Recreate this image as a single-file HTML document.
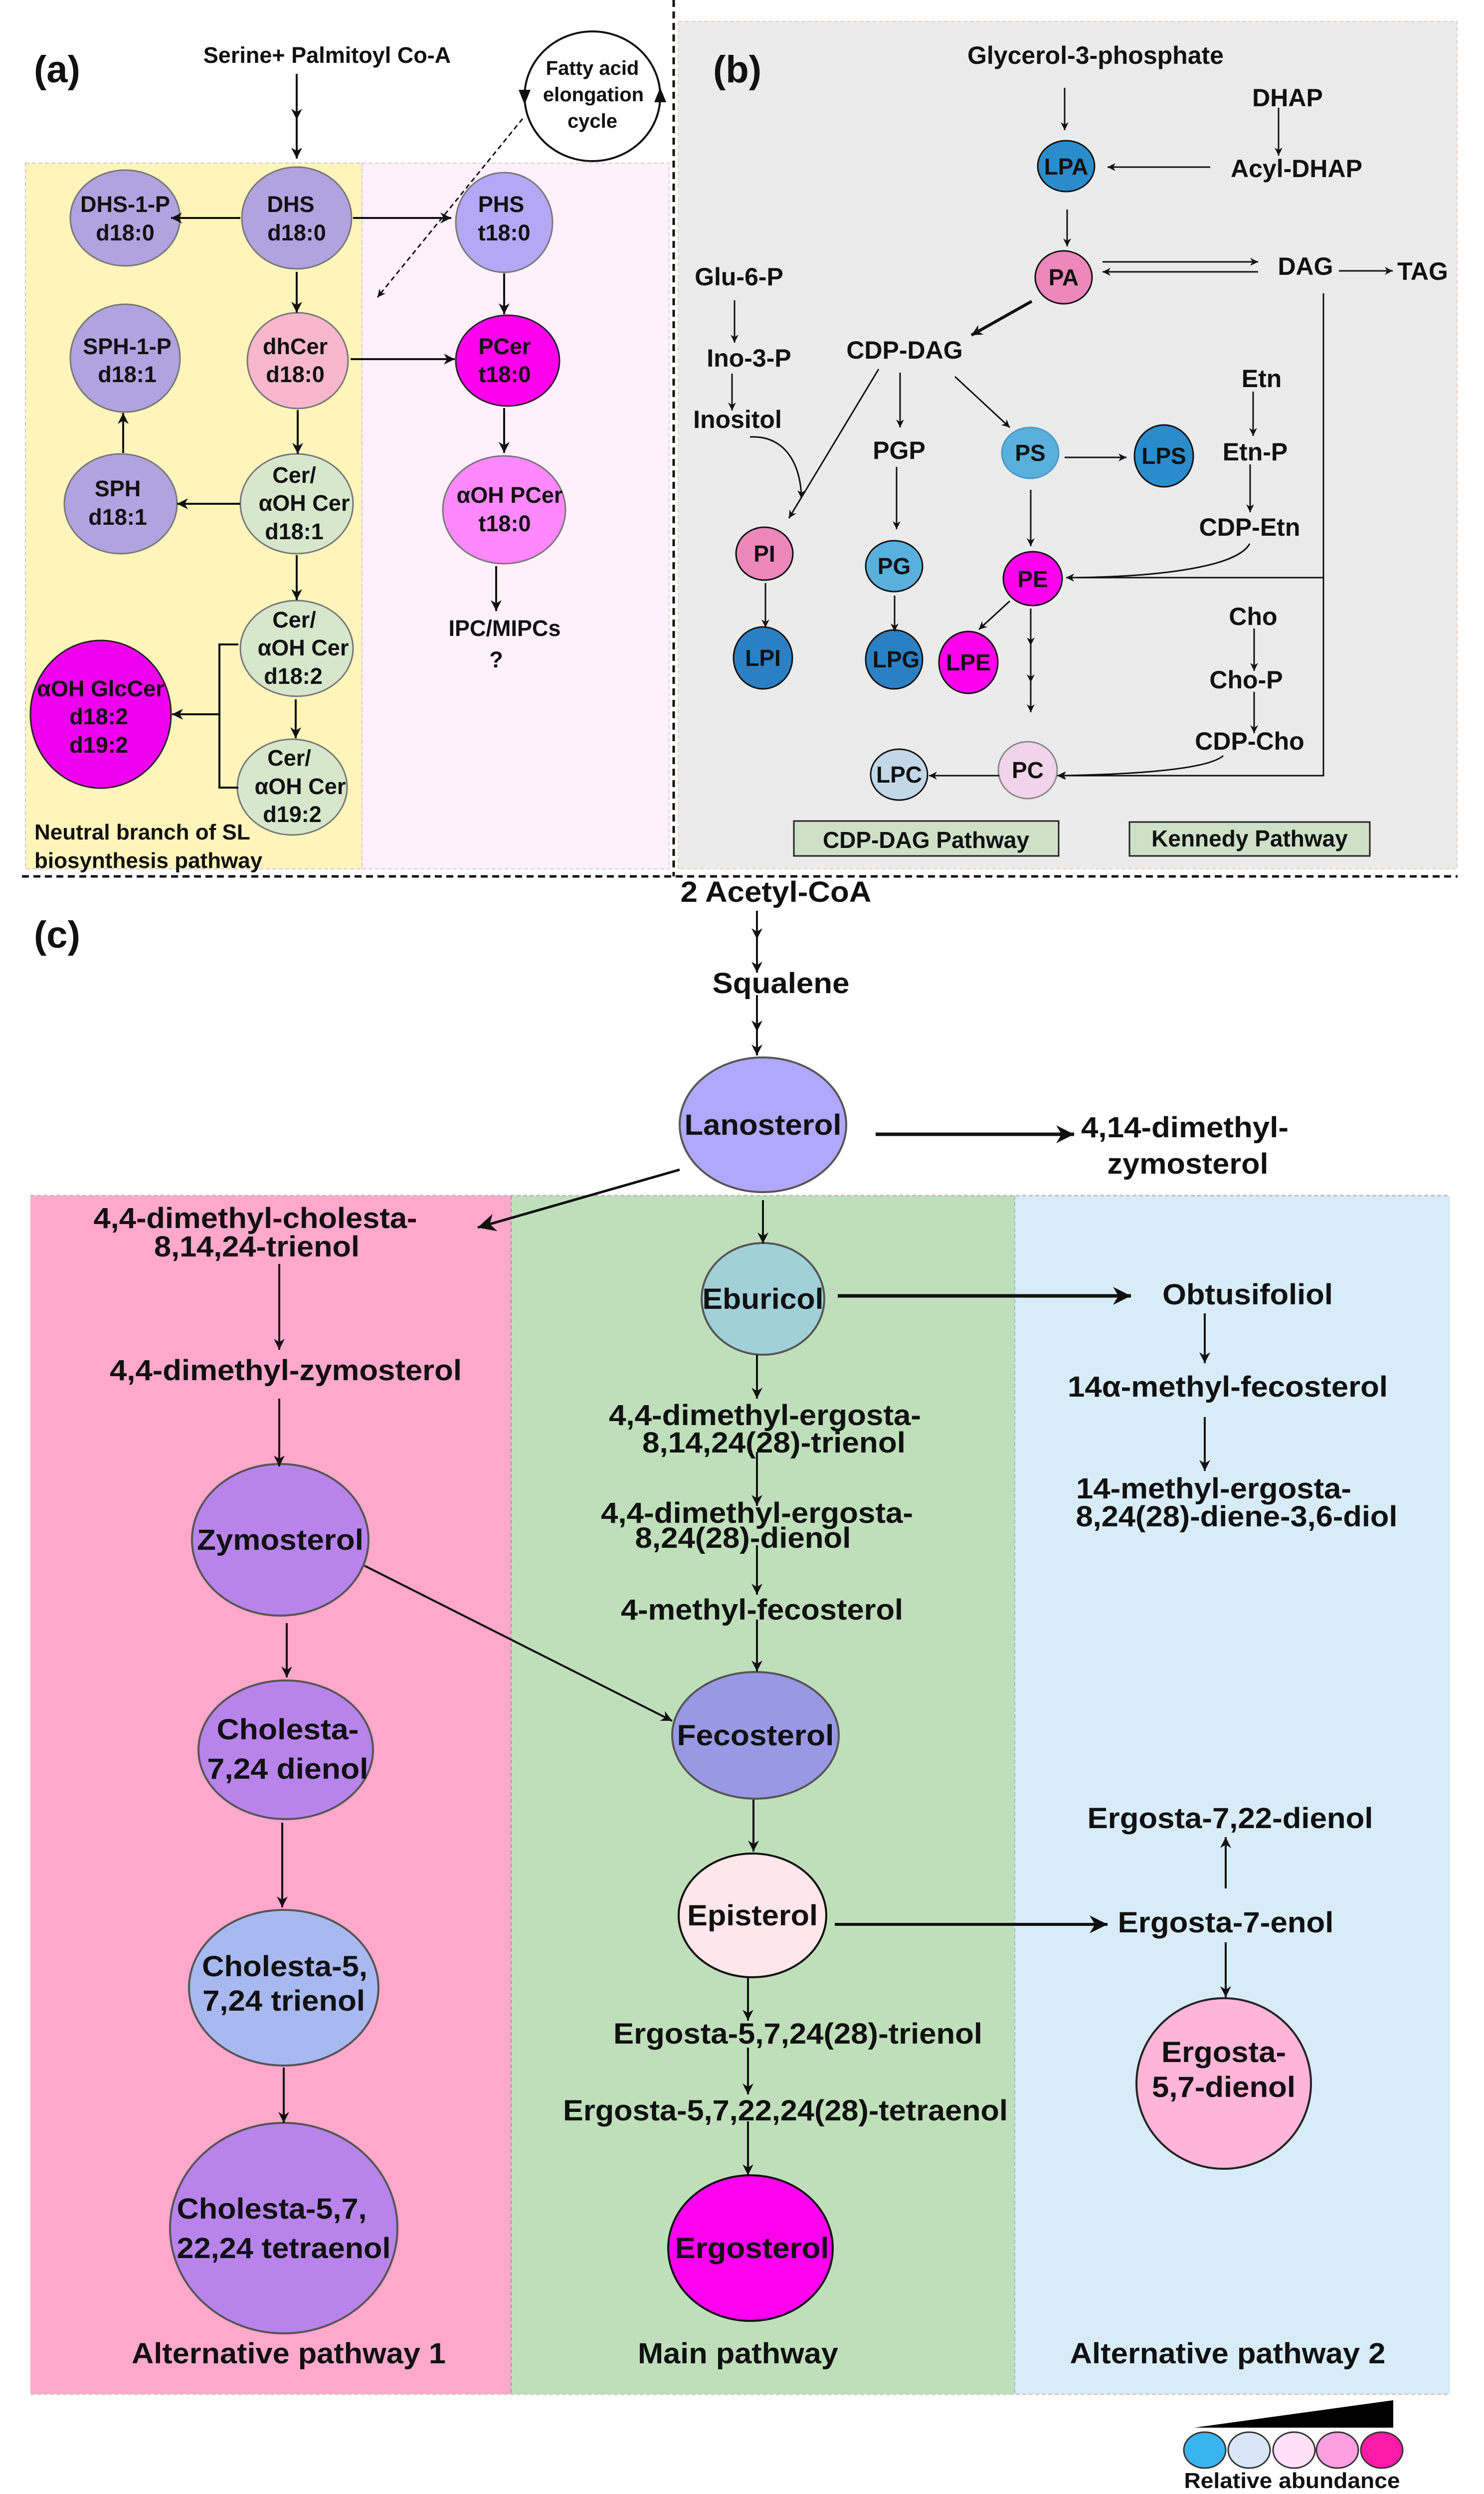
<!DOCTYPE html>
<html><head><meta charset="utf-8"><style>
html,body{margin:0;padding:0;background:#fff;width:2976px;height:5080px;overflow:hidden;}
svg{display:block;}
text{font-family:"Liberation Sans",Arial,sans-serif;font-weight:bold;fill:#111;}
.a{font-size:45px;} .b{font-size:50px;} .c{font-size:58px;}
</style></head><body>
<svg width="2976" height="5080" viewBox="0 0 2976 5080" xmlns="http://www.w3.org/2000/svg">
<defs>
<marker id="h" viewBox="0 0 10 10" refX="10" refY="5" markerWidth="30" markerHeight="22" markerUnits="userSpaceOnUse" orient="auto"><path d="M0,0 L10,5 L0,10 L3,5 z" fill="#111"/></marker>
<marker id="hs" viewBox="0 0 10 10" refX="10" refY="5" markerWidth="22" markerHeight="16" markerUnits="userSpaceOnUse" orient="auto"><path d="M0,0 L10,5 L0,10 L3,5 z" fill="#111"/></marker>
<marker id="ht" viewBox="0 0 10 10" refX="10" refY="5" markerWidth="40" markerHeight="36" markerUnits="userSpaceOnUse" orient="auto"><path d="M0,0 L10,5 L0,10 L3,5 z" fill="#111"/></marker>
</defs>

<!-- ============ PANEL A ============ -->
<rect x="51" y="327" width="675" height="1415" fill="#fff5bb" stroke="#c8c8c8" stroke-width="2" stroke-dasharray="8,5"/>
<rect x="726" y="327" width="616" height="1415" fill="#fff0fb" stroke="#d8c8d8" stroke-width="2" stroke-dasharray="8,5"/>
<text x="68" y="165" style="font-size:76px">(a)</text>
<text class="a" x="656" y="126" text-anchor="middle">Serine+ Palmitoyl Co-A</text>
<polyline points="595,148 595,240 595,318" fill="none" stroke="#111" stroke-width="4" marker-mid="url(#h)" marker-end="url(#h)"/>
<ellipse cx="1188" cy="193" rx="136" ry="130" fill="#fff" stroke="#111" stroke-width="4"/>
<path d="M1040,180 l12,30 l12,-30 z" fill="#111"/>
<path d="M1312,205 l12,-30 l12,30 z" fill="#111"/>
<text class="a" x="1188" y="150" text-anchor="middle" style="font-size:40px">Fatty acid</text>
<text class="a" x="1190" y="203" text-anchor="middle" style="font-size:40px">elongation</text>
<text class="a" x="1188" y="256" text-anchor="middle" style="font-size:40px">cycle</text>
<line x1="1048" y1="238" x2="757" y2="596" stroke="#111" stroke-width="3" stroke-dasharray="10,7" marker-end="url(#hs)"/>

<g stroke="#777" stroke-width="3">
<ellipse cx="251" cy="437" rx="110" ry="96" fill="#b0a3e0"/>
<ellipse cx="595" cy="437" rx="110" ry="102" fill="#b0a3e0"/>
<ellipse cx="1011" cy="446" rx="97" ry="100" fill="#b4a8f6"/>
<ellipse cx="597" cy="723" rx="101" ry="96" fill="#f8b7cc"/>
<ellipse cx="251" cy="718" rx="110" ry="108" fill="#b0a3e0"/>
<ellipse cx="1018" cy="723" rx="104" ry="91" fill="#ff00ee" stroke="#222"/>
<ellipse cx="242" cy="1010" rx="113" ry="100" fill="#b0a3e0"/>
<ellipse cx="595" cy="1010" rx="113" ry="100" fill="#d6e7cc"/>
<ellipse cx="1011" cy="1022" rx="123" ry="108" fill="#ff88ff"/>
<ellipse cx="595" cy="1300" rx="113" ry="96" fill="#d6e7cc"/>
<ellipse cx="202" cy="1432" rx="141" ry="148" fill="#ee00ee" stroke="#222"/>
<ellipse cx="586" cy="1578" rx="110" ry="96" fill="#d6e7cc"/>
</g>
<g class="a" text-anchor="middle">
<text x="251" y="425">DHS-1-P</text><text x="251" y="482">d18:0</text>
<text x="583" y="425">DHS</text><text x="595" y="482">d18:0</text>
<text x="1005" y="425">PHS</text><text x="1011" y="482">t18:0</text>
<text x="592" y="710">dhCer</text><text x="592" y="766">d18:0</text>
<text x="255" y="710">SPH-1-P</text><text x="255" y="766">d18:1</text>
<text x="1012" y="710">PCer</text><text x="1012" y="766">t18:0</text>
<text x="236" y="995">SPH</text><text x="236" y="1052">d18:1</text>
<text x="590" y="968">Cer/</text><text x="610" y="1024">αOH Cer</text><text x="590" y="1081">d18:1</text>
<text x="1022" y="1008">αOH PCer</text><text x="1012" y="1065">t18:0</text>
<text x="1012" y="1275">IPC/MIPCs</text><text x="995" y="1338">?</text>
<text x="590" y="1258">Cer/</text><text x="608" y="1314">αOH Cer</text><text x="588" y="1371">d18:2</text>
<text x="202" y="1396">αOH GlcCer</text><text x="198" y="1452">d18:2</text><text x="198" y="1509">d19:2</text>
<text x="580" y="1535">Cer/</text><text x="602" y="1592">αOH Cer</text><text x="586" y="1648">d19:2</text>
</g>
<text class="a" x="69" y="1683" style="font-size:44px">Neutral branch of SL</text>
<text class="a" x="69" y="1740" style="font-size:44px">biosynthesis pathway</text>
<g stroke="#111" stroke-width="4" fill="none">
<line x1="482" y1="437" x2="343" y2="437" marker-end="url(#h)"/>
<line x1="708" y1="437" x2="905" y2="437" marker-end="url(#h)"/>
<line x1="595" y1="545" x2="595" y2="627" marker-end="url(#h)"/>
<line x1="1011" y1="548" x2="1011" y2="630" marker-end="url(#h)"/>
<line x1="703" y1="720" x2="912" y2="720" marker-end="url(#h)"/>
<line x1="597" y1="822" x2="597" y2="910" marker-end="url(#h)"/>
<line x1="247" y1="908" x2="247" y2="828" marker-end="url(#h)"/>
<line x1="482" y1="1010" x2="355" y2="1010" marker-end="url(#h)"/>
<line x1="1011" y1="818" x2="1011" y2="908" marker-end="url(#h)"/>
<line x1="995" y1="1135" x2="995" y2="1225" marker-end="url(#h)"/>
<line x1="595" y1="1113" x2="595" y2="1203" marker-end="url(#h)"/>
<line x1="593" y1="1402" x2="593" y2="1480" marker-end="url(#h)"/>
<polyline points="478,1292 440,1292 440,1579 478,1579"/>
<line x1="440" y1="1432" x2="345" y2="1432" marker-end="url(#h)"/>
</g>

<!-- separators -->
<line x1="1351" y1="0" x2="1351" y2="1757" stroke="#111" stroke-width="5" stroke-dasharray="14,9"/>
<line x1="44" y1="1757" x2="2923" y2="1757" stroke="#111" stroke-width="5" stroke-dasharray="14,9"/>

<!-- ============ PANEL B ============ -->
<rect x="1360" y="43" width="1562" height="1699" fill="#ebebeb" stroke="#e8caca" stroke-width="2" stroke-dasharray="8,5"/>
<text x="1430" y="165" style="font-size:76px">(b)</text>
<g class="b" text-anchor="middle">
<text x="2197" y="128">Glycerol-3-phosphate</text>
<text x="2582" y="213">DHAP</text>
<text x="2600" y="355">Acyl-DHAP</text>
<text x="2618" y="551">DAG</text>
<text x="2853" y="561">TAG</text>
<text x="1482" y="572">Glu-6-P</text>
<text x="1502" y="735">Ino-3-P</text>
<text x="1479" y="858">Inositol</text>
<text x="1814" y="719">CDP-DAG</text>
<text x="1803" y="920">PGP</text>
<text x="2530" y="776">Etn</text>
<text x="2517" y="923">Etn-P</text>
<text x="2506" y="1074">CDP-Etn</text>
<text x="2513" y="1253">Cho</text>
<text x="2499" y="1380">Cho-P</text>
<text x="2506" y="1503">CDP-Cho</text>
</g>
<g stroke="#111" stroke-width="3">
<ellipse cx="2138" cy="333" rx="57" ry="51" fill="#2b8ccc"/>
<ellipse cx="2133" cy="556" rx="57" ry="53" fill="#ee88bb"/>
<ellipse cx="2066" cy="908" rx="57" ry="51" fill="#5ab0dc" stroke="#4a9ac8"/>
<ellipse cx="2334" cy="914" rx="59" ry="62" fill="#2b8ccc"/>
<ellipse cx="1533" cy="1110" rx="57" ry="53" fill="#ee88bb"/>
<ellipse cx="1793" cy="1135" rx="57" ry="51" fill="#5ab0dc"/>
<ellipse cx="2071" cy="1160" rx="59" ry="54" fill="#ff00ee"/>
<ellipse cx="1530" cy="1319" rx="59" ry="62" fill="#2b80c4"/>
<ellipse cx="1793" cy="1322" rx="57" ry="59" fill="#2b80c4"/>
<ellipse cx="1942" cy="1328" rx="59" ry="62" fill="#ff00ee"/>
<ellipse cx="2061" cy="1544" rx="59" ry="57" fill="#f2d4ea" stroke="#888"/>
<ellipse cx="1803" cy="1553" rx="57" ry="51" fill="#c2d8e8"/>
</g>
<g class="b" text-anchor="middle" style="font-size:46px">
<text x="2138" y="350">LPA</text>
<text x="2133" y="572">PA</text>
<text x="2066" y="924">PS</text>
<text x="2334" y="930">LPS</text>
<text x="1533" y="1126">PI</text>
<text x="1793" y="1151">PG</text>
<text x="2071" y="1177">PE</text>
<text x="1530" y="1335">LPI</text>
<text x="1797" y="1338">LPG</text>
<text x="1942" y="1344">LPE</text>
<text x="2061" y="1560">PC</text>
<text x="1803" y="1569">LPC</text>
</g>
<g stroke="#111" stroke-width="3" fill="none">
<line x1="2135" y1="176" x2="2135" y2="261" marker-end="url(#hs)"/>
<line x1="2564" y1="216" x2="2564" y2="312" marker-end="url(#hs)"/>
<line x1="2427" y1="335" x2="2221" y2="335" marker-end="url(#hs)"/>
<line x1="2140" y1="420" x2="2140" y2="494" marker-end="url(#hs)"/>
<line x1="2211" y1="525" x2="2523" y2="525" marker-end="url(#hs)"/>
<line x1="2523" y1="545" x2="2211" y2="545" marker-end="url(#hs)"/>
<line x1="2685" y1="543" x2="2793" y2="543" marker-end="url(#hs)"/>
<line x1="1473" y1="602" x2="1473" y2="687" marker-end="url(#hs)"/>
<line x1="1468" y1="749" x2="1468" y2="823" marker-end="url(#hs)"/>
<path d="M1504,876 C1580,872 1607,940 1607,999" marker-end="url(#hs)"/>
<line x1="2069" y1="604" x2="1948" y2="672" stroke-width="6" marker-end="url(#h)"/>
<line x1="1762" y1="740" x2="1582" y2="1039" marker-end="url(#hs)"/>
<line x1="1805" y1="747" x2="1805" y2="857" marker-end="url(#hs)"/>
<line x1="1915" y1="755" x2="2025" y2="857" marker-end="url(#hs)"/>
<line x1="2135" y1="917" x2="2259" y2="917" marker-end="url(#hs)"/>
<line x1="2513" y1="785" x2="2513" y2="874" marker-end="url(#hs)"/>
<line x1="2507" y1="931" x2="2507" y2="1027" marker-end="url(#hs)"/>
<line x1="1798" y1="936" x2="1798" y2="1061" marker-end="url(#hs)"/>
<line x1="2067" y1="982" x2="2067" y2="1095" marker-end="url(#hs)"/>
<path d="M2506,1090 C2480,1140 2300,1158 2138,1158" marker-end="url(#hs)"/>
<polyline points="2654,588 2654,1555 2120,1555" marker-end="url(#hs)"/>
<line x1="2654" y1="1158" x2="2138" y2="1158" marker-end="url(#hs)"/>
<line x1="2515" y1="1260" x2="2515" y2="1345" marker-end="url(#hs)"/>
<line x1="2515" y1="1387" x2="2515" y2="1470" marker-end="url(#hs)"/>
<path d="M2453,1515 C2420,1545 2250,1553 2122,1555" marker-end="url(#hs)"/>
<line x1="1535" y1="1169" x2="1535" y2="1258" marker-end="url(#hs)"/>
<line x1="1794" y1="1194" x2="1794" y2="1266" marker-end="url(#hs)"/>
<line x1="2025" y1="1205" x2="1963" y2="1262" marker-end="url(#hs)"/>
<polyline points="2067,1220 2067,1294 2067,1368 2067,1428" marker-mid="url(#hs)" marker-end="url(#hs)"/>
<line x1="2004" y1="1555" x2="1863" y2="1555" marker-end="url(#hs)"/>
</g>
<rect x="1592" y="1646" width="531" height="70" fill="#cfe0c8" stroke="#222" stroke-width="3"/>
<rect x="2265" y="1648" width="482" height="68" fill="#cfe0c8" stroke="#222" stroke-width="3"/>
<text class="b" x="1857" y="1700" text-anchor="middle" style="font-size:46px">CDP-DAG  Pathway</text>
<text class="b" x="2506" y="1697" text-anchor="middle" style="font-size:46px">Kennedy Pathway</text>

<!-- ============ PANEL C ============ -->
<rect x="61" y="2397" width="964" height="2403" fill="#ffa8cb"/>
<rect x="1025" y="2397" width="1010" height="2403" fill="#bfdfbb"/>
<rect x="2035" y="2397" width="873" height="2403" fill="#d8ecf8"/>
<line x1="61" y1="2397" x2="2908" y2="2397" stroke="#bbb" stroke-width="3" stroke-dasharray="8,5"/>
<line x1="61" y1="4800" x2="2908" y2="4800" stroke="#ccc" stroke-width="3" stroke-dasharray="8,5"/>
<line x1="1025" y1="2397" x2="1025" y2="4800" stroke="#999" stroke-width="2" stroke-dasharray="8,5"/>
<line x1="2035" y1="2397" x2="2035" y2="4800" stroke="#9bb" stroke-width="2" stroke-dasharray="8,5"/>
<text x="68" y="1900" style="font-size:76px">(c)</text>

<g stroke="#555" stroke-width="4">
<ellipse cx="1530" cy="2255" rx="167" ry="135" fill="#b0a8fb"/>
<ellipse cx="1530" cy="2604" rx="123" ry="112" fill="#a2d0d8"/>
<ellipse cx="562" cy="3087" rx="177" ry="152" fill="#b884ec"/>
<ellipse cx="1515" cy="3479" rx="167" ry="127" fill="#9898e4"/>
<ellipse cx="573" cy="3508" rx="175" ry="139" fill="#b884ec"/>
<ellipse cx="569" cy="3985" rx="190" ry="156" fill="#a8b8f0"/>
<ellipse cx="1509" cy="3840" rx="148" ry="124" fill="#ffe6ea" stroke="#111"/>
<ellipse cx="1505" cy="4507" rx="165" ry="146" fill="#ff00f0" stroke="#111"/>
<ellipse cx="569" cy="4467" rx="228" ry="211" fill="#b884ec"/>
<ellipse cx="2454" cy="4177" rx="175" ry="171" fill="#ffb4d8" stroke="#222"/>
</g>

<g class="c" text-anchor="middle">
<text x="1556" y="1808" textLength="383" lengthAdjust="spacingAndGlyphs">2 Acetyl-CoA</text>
<text x="1566" y="1991" textLength="275" lengthAdjust="spacingAndGlyphs">Squalene</text>
<text x="1530" y="2275" textLength="315" lengthAdjust="spacingAndGlyphs">Lanosterol</text>
<text x="2376" y="2280" textLength="416" lengthAdjust="spacingAndGlyphs">4,14-dimethyl-</text>
<text x="2382" y="2353" textLength="323" lengthAdjust="spacingAndGlyphs">zymosterol</text>
<text x="512" y="2462" textLength="649" lengthAdjust="spacingAndGlyphs">4,4-dimethyl-cholesta-</text>
<text x="515" y="2519" textLength="412" lengthAdjust="spacingAndGlyphs">8,14,24-trienol</text>
<text x="1530" y="2624" textLength="243" lengthAdjust="spacingAndGlyphs">Eburicol</text>
<text x="2502" y="2615" textLength="342" lengthAdjust="spacingAndGlyphs">Obtusifoliol</text>
<text x="573" y="2767" textLength="706" lengthAdjust="spacingAndGlyphs">4,4-dimethyl-zymosterol</text>
<text x="2462" y="2800" textLength="642" lengthAdjust="spacingAndGlyphs">14α-methyl-fecosterol</text>
<text x="1534" y="2857" textLength="626" lengthAdjust="spacingAndGlyphs">4,4-dimethyl-ergosta-</text>
<text x="1552" y="2912" textLength="528" lengthAdjust="spacingAndGlyphs">8,14,24(28)-trienol</text>
<text x="1518" y="3053" textLength="626" lengthAdjust="spacingAndGlyphs">4,4-dimethyl-ergosta-</text>
<text x="1490" y="3103" textLength="433" lengthAdjust="spacingAndGlyphs">8,24(28)-dienol</text>
<text x="1528" y="3247" textLength="566" lengthAdjust="spacingAndGlyphs">4-methyl-fecosterol</text>
<text x="2434" y="3004" textLength="552" lengthAdjust="spacingAndGlyphs">14-methyl-ergosta-</text>
<text x="2480" y="3060" textLength="645" lengthAdjust="spacingAndGlyphs">8,24(28)-diene-3,6-diol</text>
<text x="562" y="3107" textLength="334" lengthAdjust="spacingAndGlyphs">Zymosterol</text>
<text x="577" y="3487" textLength="285" lengthAdjust="spacingAndGlyphs">Cholesta-</text>
<text x="577" y="3566" textLength="323" lengthAdjust="spacingAndGlyphs">7,24 dienol</text>
<text x="1515" y="3499" textLength="315" lengthAdjust="spacingAndGlyphs">Fecosterol</text>
<text x="2467" y="3665" textLength="573" lengthAdjust="spacingAndGlyphs">Ergosta-7,22-dienol</text>
<text x="1509" y="3860" textLength="262" lengthAdjust="spacingAndGlyphs">Episterol</text>
<text x="2458" y="3874" textLength="433" lengthAdjust="spacingAndGlyphs">Ergosta-7-enol</text>
<text x="571" y="3962" textLength="332" lengthAdjust="spacingAndGlyphs">Cholesta-5,</text>
<text x="569" y="4031" textLength="326" lengthAdjust="spacingAndGlyphs">7,24 trienol</text>
<text x="1600" y="4097" textLength="740" lengthAdjust="spacingAndGlyphs">Ergosta-5,7,24(28)-trienol</text>
<text x="1575" y="4251" textLength="892" lengthAdjust="spacingAndGlyphs">Ergosta-5,7,22,24(28)-tetraenol</text>
<text x="545" y="4448" textLength="381" lengthAdjust="spacingAndGlyphs">Cholesta-5,7,</text>
<text x="569" y="4527" textLength="429" lengthAdjust="spacingAndGlyphs">22,24 tetraenol</text>
<text x="1508" y="4527" textLength="309" lengthAdjust="spacingAndGlyphs">Ergosterol</text>
<text x="2454" y="4134" textLength="250" lengthAdjust="spacingAndGlyphs">Ergosta-</text>
<text x="2454" y="4204" textLength="288" lengthAdjust="spacingAndGlyphs">5,7-dienol</text>
<text x="579" y="4738" textLength="630" lengthAdjust="spacingAndGlyphs">Alternative pathway 1</text>
<text x="1480" y="4738" textLength="402" lengthAdjust="spacingAndGlyphs">Main pathway</text>
<text x="2462" y="4738" textLength="633" lengthAdjust="spacingAndGlyphs">Alternative pathway 2</text>
</g>

<g stroke="#111" stroke-width="4" fill="none">
<polyline points="1518,1826 1518,1883 1518,1950" marker-mid="url(#h)" marker-end="url(#h)"/>
<polyline points="1518,1995 1518,2068 1518,2116" marker-mid="url(#h)" marker-end="url(#h)"/>
<line x1="1756" y1="2274" x2="2154" y2="2274" stroke-width="7" marker-end="url(#ht)"/>
<line x1="1363" y1="2345" x2="958" y2="2461" stroke-width="5" marker-end="url(#ht)"/>
<line x1="560" y1="2534" x2="560" y2="2706" marker-end="url(#h)"/>
<line x1="1530" y1="2406" x2="1530" y2="2493" marker-end="url(#h)"/>
<line x1="1680" y1="2598" x2="2268" y2="2598" stroke-width="7" marker-end="url(#ht)"/>
<line x1="2416" y1="2633" x2="2416" y2="2733" marker-end="url(#h)"/>
<line x1="560" y1="2804" x2="560" y2="2940" marker-end="url(#h)"/>
<line x1="1518" y1="2716" x2="1518" y2="2804" marker-end="url(#h)"/>
<line x1="1518" y1="2911" x2="1518" y2="3019" marker-end="url(#h)"/>
<line x1="1518" y1="3098" x2="1518" y2="3197" marker-end="url(#h)"/>
<line x1="1518" y1="3247" x2="1518" y2="3351" marker-end="url(#h)"/>
<line x1="2416" y1="2841" x2="2416" y2="2949" marker-end="url(#h)"/>
<line x1="731" y1="3139" x2="1348" y2="3450" marker-end="url(#h)"/>
<line x1="575" y1="3254" x2="575" y2="3363" marker-end="url(#h)"/>
<line x1="566" y1="3654" x2="566" y2="3824" marker-end="url(#h)"/>
<line x1="1511" y1="3608" x2="1511" y2="3712" marker-end="url(#h)"/>
<line x1="1674" y1="3858" x2="2221" y2="3858" stroke-width="6" marker-end="url(#ht)"/>
<line x1="2458" y1="3786" x2="2458" y2="3683" marker-end="url(#h)"/>
<line x1="2458" y1="3894" x2="2458" y2="4004" marker-end="url(#h)"/>
<line x1="1500" y1="3964" x2="1500" y2="4051" marker-end="url(#h)"/>
<line x1="1500" y1="4105" x2="1500" y2="4199" marker-end="url(#h)"/>
<line x1="1500" y1="4253" x2="1500" y2="4361" marker-end="url(#h)"/>
<line x1="569" y1="4145" x2="569" y2="4256" marker-end="url(#h)"/>
</g>

<!-- legend -->
<polygon points="2395,4867 2794,4867 2794,4812" fill="#000"/>
<g stroke="#333" stroke-width="3">
<ellipse cx="2416" cy="4912" rx="42" ry="36" fill="#3ab4f0"/>
<ellipse cx="2505" cy="4912" rx="42" ry="36" fill="#d8e6f8"/>
<ellipse cx="2595" cy="4912" rx="42" ry="36" fill="#ffe0f8"/>
<ellipse cx="2682" cy="4912" rx="42" ry="36" fill="#ff9ee0"/>
<ellipse cx="2771" cy="4912" rx="42" ry="36" fill="#ff1aa8"/>
</g>
<text x="2591" y="4988" text-anchor="middle" style="font-size:44px" textLength="433" lengthAdjust="spacingAndGlyphs">Relative abundance</text>
</svg>
</body></html>
